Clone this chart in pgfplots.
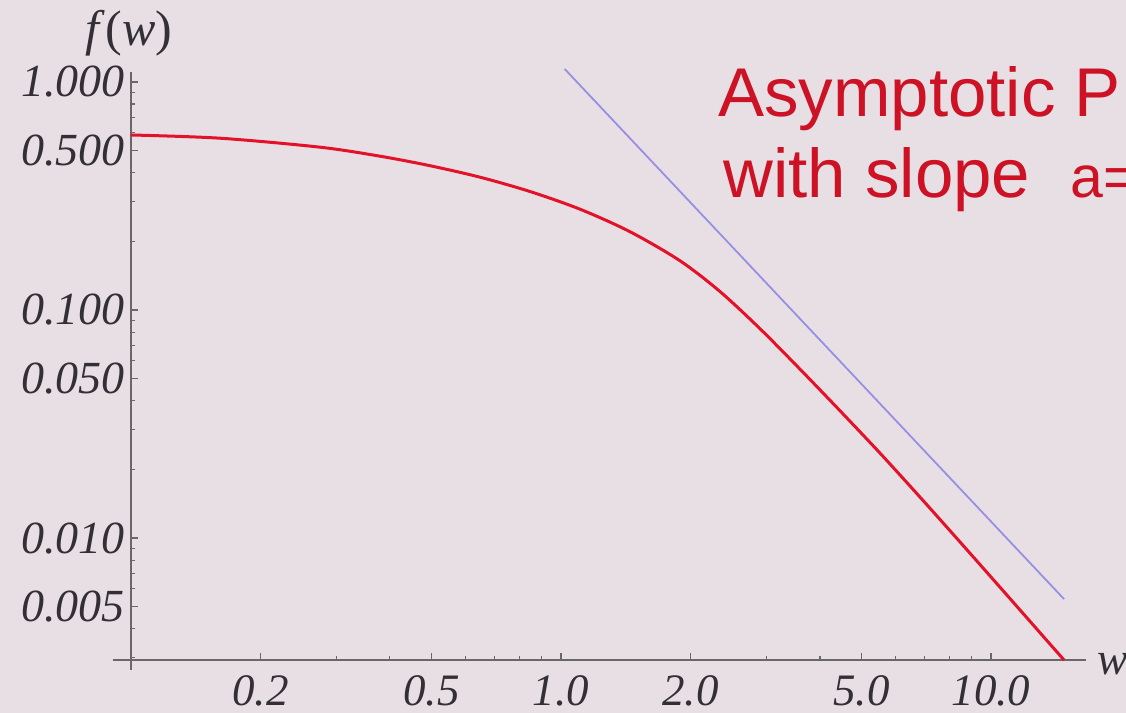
\documentclass[border=0pt]{standalone}
\usepackage{fontspec}
\setmainfont{Liberation Serif}
\newfontfamily\titlesans{Liberation Sans}
\usepackage{pgfplots}
\pgfplotsset{compat=1.18}
\definecolor{bgcol}{RGB}{232,223,229}
\definecolor{axisgray}{RGB}{105,102,108}
\definecolor{labelgray}{RGB}{50,48,54}
\definecolor{curvered}{RGB}{228,18,40}
\definecolor{titlered}{RGB}{204,18,36}
\definecolor{slopeblue}{RGB}{150,144,228}
\begin{document}
\begin{tikzpicture}
\useasboundingbox (0,0) rectangle (563pt,356.5pt);
\clip (0,0) rectangle (563pt,356.5pt);
\fill[bgcol] (0,0) rectangle (563pt,356.5pt);
\begin{axis}[
  at={(65.5pt,26.5pt)}, anchor=south west,
  scale only axis, width=477.5pt, height=294pt,
  xmode=log, ymode=log,
  xmin=0.1, xmax=16.63, ymin=0.00292, ymax=1.106,
  axis x line=bottom, axis y line=left,
  axis line style={-, color=axisgray, line width=0.9pt},
  tick align=inside,
  major tick length=3.5pt, minor tick length=2pt,
  tick style={color=axisgray, line width=0.6pt},
  xtick={0.2,0.5,1,2,5,10},
  xticklabels={\textit{0.2},\textit{0.5},\textit{1.0},\textit{2.0},\textit{5.0},\textit{10.0}},
  minor xtick={0.3,0.4,0.6,0.7,0.8,0.9,3,4,6,7,8,9},
  ytick={0.005,0.01,0.05,0.1,0.5,1},
  yticklabels={\textit{0.005},\textit{0.010},\textit{0.050},\textit{0.100},\textit{0.500},\textit{1.000}},
  minor ytick={0.003,0.004,0.006,0.007,0.008,0.009,0.02,0.03,0.04,0.06,0.07,0.08,0.09,0.2,0.3,0.4,0.6,0.7,0.8,0.9},
  ticklabel style={text=labelgray, inner sep=0pt},
  xticklabel style={font=\fontsize{22.5}{22.5}\selectfont, anchor=north, yshift=-7.5pt},
  yticklabel style={font=\fontsize{23}{23}\selectfont, anchor=east, xshift=-3pt},
  clip=false,
]
\addplot[color=curvered, line width=1.5pt, smooth] coordinates {
  (0.1,0.5856) (0.161,0.5669) (0.2751,0.5177) (0.3794,0.4727) (0.4957,0.4294)
  (0.648,0.3824) (0.8471,0.3309) (1.107,0.2768) (1.447,0.2205) (1.891,0.1645)
  (2.343,0.1205) (2.903,0.0828) (3.596,0.05505) (4.455,0.03617) (5.52,0.02357)
  (6.838,0.01512) (8.471,0.009614) (10.49,0.006091) (14.79,0.002917)
};
\addplot[color=slopeblue, line width=0.9pt] coordinates {
  (1.02,1.14) (14.79,0.0054)
};
\end{axis}
% axis overhang (Mathematica style)
\draw[axisgray, line width=0.9pt] (56.5pt,26.5pt) -- (65.5pt,26.5pt);
\draw[axisgray, line width=0.9pt] (65.5pt,26.5pt) -- (65.5pt,21.5pt);
% axis labels
\node[anchor=base, inner sep=0pt, text=labelgray, font=\fontsize{25}{25}\selectfont] at (64.5pt,333.5pt) {\textit{f}(\textit{w})};
\node[anchor=base west, inner sep=0pt, text=labelgray, font=\fontsize{23}{23}\selectfont] at (548.5pt,19pt) {\textit{w}};
% title text
\node[anchor=base west, inner sep=0pt, text=titlered, font=\titlesans\fontsize{34.5}{34.5}\selectfont] at (359pt,298pt) {Asymptotic P};
\node[anchor=base west, inner sep=0pt, text=titlered, font=\titlesans\fontsize{34.5}{34.5}\selectfont] at (361.5pt,257.5pt) {with slope};
\node[anchor=base west, inner sep=0pt, text=titlered, font=\titlesans\fontsize{29.5}{29.5}\selectfont] at (535pt,257.5pt) {a=};
\end{tikzpicture}
\end{document}
